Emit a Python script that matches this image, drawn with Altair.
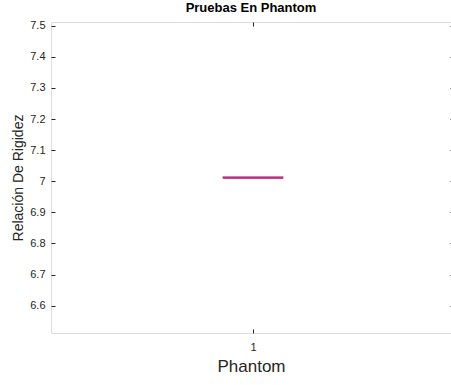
import altair as alt
import pandas as pd

# Data
groups = ["1"]
positions = [1]
values = [7.012]          # single observation -> box collapses to one line
y_ticks = [6.6, 6.7, 6.8, 6.9, 7.0, 7.1, 7.2, 7.3, 7.4, 7.5]
x_ticks = [1]

BOX_HALF = 0.075
FONT = "Liberation Sans"
TXT = "#262626"
W, H = 400, 311

df = pd.DataFrame({"g": groups, "pos": positions, "v": values})
df["x0"] = df["pos"] - BOX_HALF
df["x1"] = df["pos"] + BOX_HALF

xs = alt.Scale(domain=[0.5, 1.49], nice=False, zero=False)
ys = alt.Scale(domain=[6.512, 7.512], nice=False, zero=False)

base = alt.Chart(df)

main_x_axis = alt.Axis(
    orient="bottom", values=x_ticks, grid=False, domain=False, ticks=False,
    labelFont=FONT, labelFontSize=11, labelColor=TXT, labelPadding=8,
    titleFont=FONT, titleFontSize=17, titleFontWeight="normal", titleColor=TXT,
    titlePadding=6, format="d",
)
main_y_axis = alt.Axis(
    orient="left", values=y_ticks, grid=False, domain=False, ticks=False,
    labelFont=FONT, labelFontSize=11, labelColor=TXT, labelPadding=6,
    titleFont=FONT, titleFontSize=14, titleFontWeight="normal", titleColor=TXT,
    titlePadding=4, format=".2~f",
)

# collapsed box edge (blue-ish) and median (red)
box = base.mark_rule(color="#8a35a8", strokeWidth=1, yOffset=-0.6).encode(
    x=alt.X("x0:Q", scale=xs, axis=main_x_axis, title="Phantom"),
    x2="x1:Q",
    y=alt.Y("v:Q", scale=ys, axis=main_y_axis, title="Relación De Rigidez"),
)

median = base.mark_rule(color="#c8004b", strokeWidth=1.3, yOffset=0.5).encode(
    x=alt.X("x0:Q", scale=xs, axis=None),
    x2="x1:Q",
    y=alt.Y("v:Q", scale=ys, axis=None),
)


def tick_axis(orient, vals, offset, size=4):
    return alt.Axis(
        orient=orient, values=vals, grid=False, domain=False, labels=False,
        ticks=True, tickSize=size, tickColor=TXT, tickWidth=1, offset=offset,
        title=None,
    )


# inward ticks on bottom edge and right edge
ticks_a = base.mark_rule(opacity=0).encode(
    x=alt.X("x0:Q", scale=xs, axis=tick_axis("bottom", x_ticks, -4)),
    x2="x1:Q",
    y=alt.Y("v:Q", scale=ys, axis=tick_axis("right", y_ticks, -1, 1)),
)

# inward ticks on top edge and left edge
ticks_b = base.mark_rule(opacity=0).encode(
    x=alt.X("x0:Q", scale=xs, axis=tick_axis("bottom", x_ticks, -H)),
    x2="x1:Q",
    y=alt.Y("v:Q", scale=ys, axis=tick_axis("right", y_ticks, -W)),
)

chart = alt.layer(box, median, ticks_a, ticks_b).resolve_axis(
    x="independent", y="independent"
).properties(
    width=W,
    height=H,
    autosize=alt.AutoSizeParams(type="none"),
    padding={"left": 51, "top": 22, "right": 0, "bottom": 52},
    title=alt.TitleParams(
        "Pruebas En Phantom", font=FONT, fontSize=13, fontWeight="bold",
        color="#000000", anchor="middle", offset=5,
    ),
).configure_view(
    stroke="#7a7a7a", strokeWidth=1,
).configure(background="white")

chart.save("out.html", embed_options={"renderer": "svg", "actions": False})
